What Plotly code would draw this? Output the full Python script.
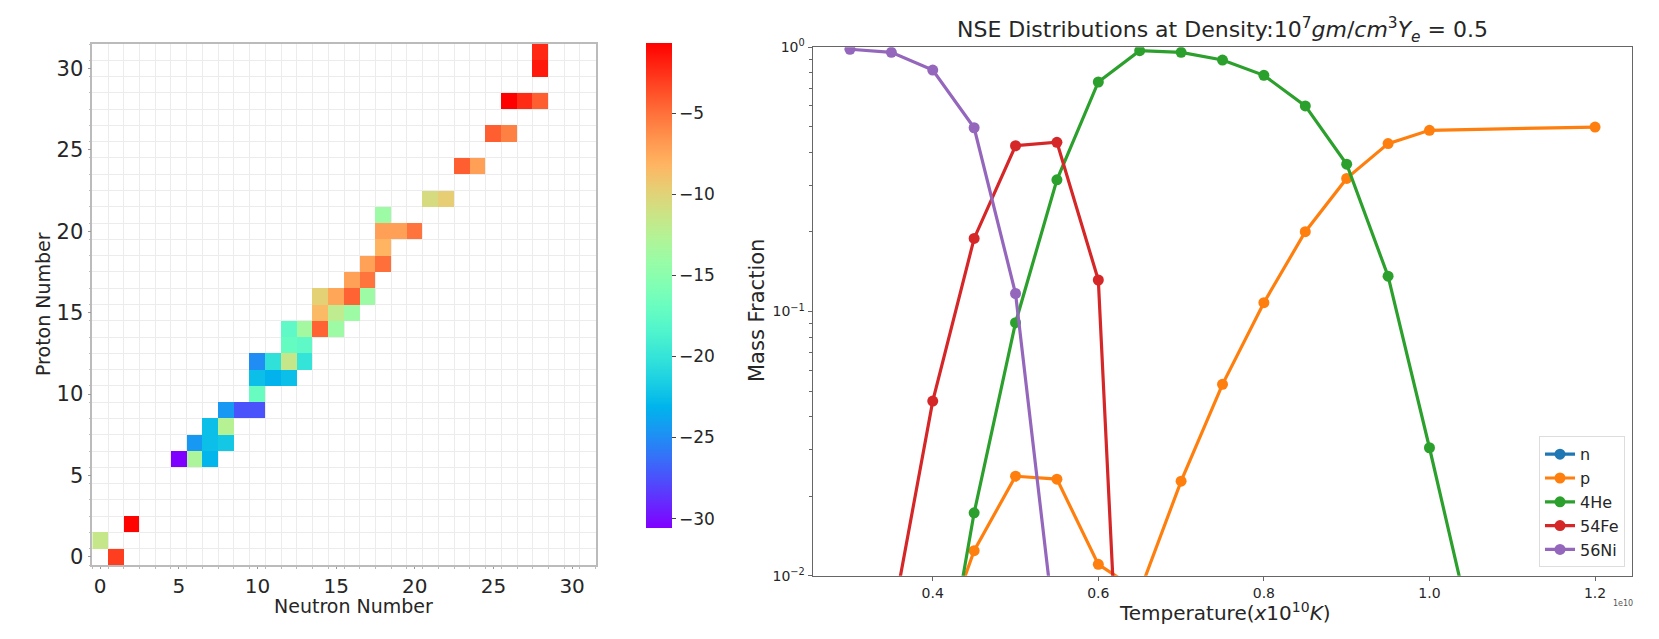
import numpy as np
import plotly.graph_objects as go

# ---------------- Left panel data (heatmap) ----------------
neutrons = [1, 0, 2, 5, 6, 7, 6, 7, 8, 7, 8, 8, 9, 10, 10, 10, 11, 12, 10, 11, 12, 13,
            12, 13, 12, 13, 14, 15, 14, 15, 16, 14, 15, 16, 17, 16, 17, 17, 18, 18,
            18, 19, 20, 18, 21, 22, 23, 24, 25, 26, 26, 27, 28, 28, 28]
protons = [0, 1, 2, 6, 6, 6, 7, 7, 7, 8, 8, 9, 9, 9, 10, 11, 11, 11, 12, 12, 12, 12,
           13, 13, 14, 14, 14, 14, 15, 15, 15, 16, 16, 16, 16, 17, 17, 18, 18, 19,
           20, 20, 20, 21, 22, 22, 24, 24, 26, 26, 28, 28, 28, 30, 31]
log_abund = [-3.0, -11.5, -0.8, -30.6, -13.0, -23.0, -24.5, -22.5, -22.0, -22.5, -12.5,
             -24.5, -27.5, -27.5, -17.0, -22.5, -23.2, -22.5, -25.0, -20.3, -11.5, -20.0,
             -17.2, -17.6, -17.6, -13.5, -4.5, -14.0, -8.5, -12.0, -14.0, -9.8, -7.5,
             -4.5, -14.0, -7.3, -5.2, -7.3, -5.0, -8.2, -7.2, -7.2, -5.2, -14.0,
             -10.6, -9.6, -4.3, -7.2, -4.3, -5.7, -0.7, -2.3, -4.3, -1.6, -2.2]
tick_vals_left = [0, 5, 10, 15, 20, 25, 30]
cbar_ticks = [-5, -10, -15, -20, -25, -30]

# ---------------- Right panel data (NSE mass fractions) ----------------
temperature = [0.30, 0.35, 0.40, 0.45, 0.50, 0.55, 0.60, 0.65, 0.70, 0.75, 0.80, 0.85,
               0.90, 0.95, 1.00, 1.20]  # x 1e10 K
x_n = [1e-9, 2e-9, 5e-9, 1e-8, 3e-8, 8e-8, 2e-7, 5e-7, 1e-6, 2e-6, 4e-6, 8e-6,
       1.5e-5, 3e-5, 5e-5, 1.5e-4]
x_p = [1e-4, 6e-4, 4.5e-3, 0.01244, 0.0238, 0.0232, 0.01104, 0.0087, 0.0228, 0.053,
       0.108, 0.2005, 0.319, 0.432, 0.485, 0.499]
x_he4 = [1e-5, 1e-4, 2.2e-3, 0.0173, 0.0907, 0.315, 0.739, 0.971, 0.957, 0.895, 0.783,
         0.600, 0.361, 0.136, 0.0305, 6e-5]
x_fe54 = [5e-4, 6.5e-3, 0.0458, 0.189, 0.424, 0.437, 0.1316, 8e-5, 1e-6, 1e-7, 1e-8,
          1e-9, 1e-10, 1e-11, 1e-12, 1e-13]
x_ni56 = [0.983, 0.957, 0.82, 0.496, 0.117, 5.3e-3, 2e-4, 1e-5, 1e-6, 1e-7, 1e-8,
          1e-9, 1e-10, 1e-11, 1e-12, 1e-13]
series_names = ["n", "p", "4He", "54Fe", "56Ni"]
series_colors = ["#1f77b4", "#ff7f0e", "#2ca02c", "#d62728", "#9467bd"]
x_ticks_right = [0.4, 0.6, 0.8, 1.0, 1.2]
x_ticktext_right = ["0.4", "0.6", "0.8", "1.0", "1.2"]

# ---------------- build ----------------
W, H = 1659, 639
FONT = "DejaVu Sans"

# matplotlib 'rainbow' colormap
cs = []
for f in np.linspace(0, 1, 21):
    r = abs(2 * f - 0.5)
    g = np.sin(np.pi * f)
    b = np.cos(np.pi * f / 2)
    r, g, b = [int(round(min(max(c, 0), 1) * 255)) for c in (r, g, b)]
    cs.append([float(f), f"rgb({r},{g},{b})"])

n_size = 32
z = [[None] * n_size for _ in range(n_size)]
for nn, zz, v in zip(neutrons, protons, log_abund):
    z[zz][nn] = v

fig = go.Figure()

fig.add_trace(go.Heatmap(
    x=list(range(n_size)), y=list(range(n_size)), z=z,
    colorscale=cs, zmin=-30.6, zmax=-0.7, hoverongaps=False,
    xaxis="x", yaxis="y",
    colorbar=dict(
        x=645.7 / W, xanchor="left", xref="paper",
        y=(H - 528.3) / H, yanchor="bottom", len=485 / H, lenmode="fraction",
        thickness=26, outlinewidth=0, xpad=0, ypad=0,
        tickmode="array", tickvals=cbar_ticks,
        ticks="outside", ticklen=4, tickcolor="#444",
        tickfont=dict(family=FONT, size=17, color="#262626"),
    ),
))

ys = [x_n, x_p, x_he4, x_fe54, x_ni56]
for name, col, yv in zip(series_names, series_colors, ys):
    fig.add_trace(go.Scatter(
        x=temperature, y=yv, name=name, mode="lines+markers",
        line=dict(color=col, width=3.2), marker=dict(color=col, size=11),
        xaxis="x2", yaxis="y2", cliponaxis=True,
    ))

fig.update_layout(
    width=W, height=H, margin=dict(l=0, r=0, t=0, b=0, autoexpand=False),
    paper_bgcolor="white", plot_bgcolor="white",
    font=dict(family=FONT, color="#262626"),
    showlegend=True,
    legend=dict(
        x=1625 / W, y=(H - 567.3) / H, xanchor="right", yanchor="bottom",
        bgcolor="white", bordercolor="#dddddd", borderwidth=1,
        font=dict(family=FONT, size=16, color="#262626"),
        itemwidth=30, tracegroupgap=0,
    ),
    xaxis=dict(
        domain=[92.3 / W, 595.7 / W], range=[-0.5, 31.5], anchor="y",
        tickmode="array", tickvals=tick_vals_left, automargin=False,
        tickfont=dict(family=FONT, size=20, color="#262626"),
        ticks="outside", ticklen=2, tickcolor="#999",
        showgrid=False, zeroline=False,
        showline=True, mirror=True, linecolor="#bbbbbb", linewidth=1.5,
        minor=dict(tick0=-0.5, dtick=1, showgrid=True, gridcolor="#ececec",
                   gridwidth=1, ticks="outside", ticklen=2, tickcolor="#bbb"),
    ),
    yaxis=dict(
        domain=[(H - 565) / H, (H - 44) / H], range=[-0.5, 31.5], anchor="x",
        tickmode="array", tickvals=tick_vals_left, automargin=False,
        tickfont=dict(family=FONT, size=21, color="#262626"),
        ticks="outside", ticklen=3, tickcolor="#999",
        showgrid=False, zeroline=False,
        showline=True, mirror=True, linecolor="#bbbbbb", linewidth=1.5,
        minor=dict(tick0=-0.5, dtick=1, showgrid=True, gridcolor="#ececec",
                   gridwidth=1, ticks="outside", ticklen=2, tickcolor="#bbb"),
    ),
    xaxis2=dict(
        domain=[812.7 / W, 1632.3 / W], range=[0.255, 1.245], anchor="y2",
        tickmode="array", tickvals=x_ticks_right, ticktext=x_ticktext_right,
        automargin=False,
        tickfont=dict(family=FONT, size=14, color="#262626"),
        ticks="outside", ticklen=4, tickcolor="#666",
        showgrid=False, zeroline=False,
        showline=True, mirror=True, linecolor="#666666", linewidth=1.3,
    ),
    yaxis2=dict(
        domain=[(H - 575.7) / H, (H - 47.3) / H], type="log", range=[-2, 0],
        anchor="x2", automargin=False,
        tickmode="array", tickvals=[0.01, 0.1, 1],
        ticktext=["10<sup>−2</sup>", "10<sup>−1</sup>", "10<sup>0</sup>"],
        tickfont=dict(family=FONT, size=14, color="#262626"),
        ticks="outside", ticklen=4, tickcolor="#666",
        showgrid=False, zeroline=False,
        showline=True, mirror=True, linecolor="#666666", linewidth=1.3,
        minor=dict(tickmode="array",
                   tickvals=[0.02, 0.03, 0.04, 0.05, 0.06, 0.07, 0.08, 0.09,
                             0.2, 0.3, 0.4, 0.5, 0.6, 0.7, 0.8, 0.9],
                   ticks="outside", ticklen=2.5, tickcolor="#666", showgrid=False),
    ),
    annotations=[
        dict(text="Neutron Number", x=353 / W, y=(H - 606) / H, xref="paper", yref="paper",
             showarrow=False, font=dict(family=FONT, size=19, color="#262626"),
             xanchor="center", yanchor="middle"),
        dict(text="Proton Number", x=43 / W, y=(H - 304) / H, xref="paper", yref="paper",
             showarrow=False, textangle=-90, font=dict(family=FONT, size=19, color="#262626"),
             xanchor="center", yanchor="middle"),
        dict(text="NSE Distributions at Density:10<sup>7</sup><i>gm</i>/<i>cm</i><sup>3</sup>"
                  "<i>Y<sub>e</sub></i> = 0.5",
             x=1222 / W, y=(H - 30) / H, xref="paper", yref="paper",
             showarrow=False, font=dict(family=FONT, size=22, color="#262626"),
             xanchor="center", yanchor="middle"),
        dict(text="Temperature(<i>x</i>10<sup>10</sup><i>K</i>)",
             x=1225 / W, y=(H - 612) / H, xref="paper", yref="paper",
             showarrow=False, font=dict(family=FONT, size=20, color="#262626"),
             xanchor="center", yanchor="middle"),
        dict(text="Mass Fraction", x=757 / W, y=(H - 311) / H, xref="paper", yref="paper",
             showarrow=False, textangle=-90, font=dict(family=FONT, size=21, color="#262626"),
             xanchor="center", yanchor="middle"),
        dict(text="1e10", x=1623 / W, y=(H - 603) / H, xref="paper", yref="paper",
             showarrow=False, font=dict(family=FONT, size=8, color="#555"),
             xanchor="center", yanchor="middle"),
    ],
)

fig.write_html("out.html",
               config={"displayModeBar": False},
               post_script="document.body.style.margin='0px';"
                           "document.body.style.overflow='hidden';")
